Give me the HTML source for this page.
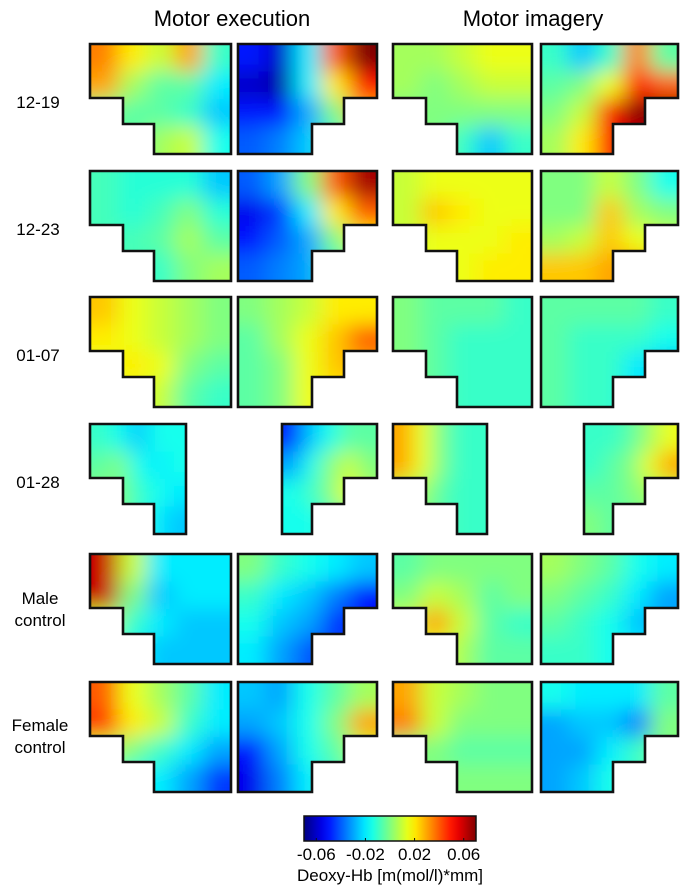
<!DOCTYPE html>
<html><head><meta charset="utf-8"><style>
html,body{margin:0;padding:0;background:#fff;}
svg{display:block;font-family:"Liberation Sans",sans-serif;}
</style></head><body>
<svg id="fig" width="686" height="894" viewBox="0 0 686 894" xmlns="http://www.w3.org/2000/svg">
<defs id="defs"></defs>
<text x="232" y="26" font-size="22" text-anchor="middle">Motor execution</text>
<text x="533" y="26" font-size="22" text-anchor="middle">Motor imagery</text>
<g id="rowlabels" font-size="17" text-anchor="middle">
<text x="38" y="108">12-19</text>
<text x="38" y="235">12-23</text>
<text x="38" y="361">01-07</text>
<text x="38" y="488">01-28</text>
<text x="40" y="604"><tspan x="40">Male</tspan><tspan x="40" dy="22">control</tspan></text>
<text x="40" y="731"><tspan x="40">Female</tspan><tspan x="40" dy="22">control</tspan></text>
</g>
<g id="panels"></g>
<g id="colorbar"></g>
<text x="390" y="881" font-size="17" text-anchor="middle">Deoxy-Hb [m(mol/l)*mm]</text>
</svg>
<script>
// Data (values in units of 0.01 m(mol/l)*mm), 4 rows x 5 cols per panel
const rowNames = ["12-19","12-23","01-07","01-28","male-control","female-control"];
const colNames = ["me-left","me-right","mi-left","mi-right"];
const vmin = -0.07, vmax = 0.07;
const cbTicks = [-0.06,-0.02,0.02,0.06];
const cbTickLabels = ["-0.06","-0.02","0.02","0.06"];
const r1 = [
 [[3.5,2,1,3,-1],[3,0.5,-0.5,-0.5,-2],[0,-0.5,-0.5,-1,-2.5],[-0.5,-0.5,0.5,1,-1.5]],
 [[-5,-6,-2,4,7],[-6,-6.5,-2,2,5],[-5,-5,-3,0,3],[-4,-3.5,-2.5,-1,1]],
 [[0.5,0.5,1,1.5,1.5],[0.5,0,0.5,1,1],[0,0,0,0,0],[0,0,-1,-2.5,-1]],
 [[-1,-2.5,-1,3.5,-0.5],[-0.5,0,1.5,5,4],[0,1,5,7,7],[0.5,2,5,6,6]]];
const r2 = [
 [[-0.8,-1.2,-1.2,-1.2,-2.5],[-0.8,-1.2,-0.8,0,-1.2],[-0.8,-0.8,-0.5,0.5,-0.5],[-0.8,-0.8,-1,0,0.5]],
 [[-4,-3,0,4,6.5],[-5.5,-4.5,-2,2,4],[-5,-4,-3,0,2],[-4,-3.5,-3,-1,0]],
 [[1,1.5,1.5,1.5,1.5],[1,2.5,2,1.5,1.5],[1,1.5,1.5,1.5,2],[1.5,1.5,1.5,2,2]],
 [[0,0,1,0,-1.5],[0,0,2.5,0.5,0],[0.5,1,2.5,1.5,1],[2.5,2.5,3,3,2]]];
const r3 = [
 [[2.5,1.5,1,0.5,0],[2,1.5,1,0.5,0],[1.5,2,1.5,0,-0.5],[1,1.5,1,-0.5,-1]],
 [[0,0.5,1,2,2],[-0.5,0.5,1.5,2.5,4],[-0.5,0,1.5,2.5,3],[-0.5,0,1.5,2,2]],
 [[0,-0.5,-0.5,-0.5,-1],[0,-0.5,-1,-1,-1],[0,-0.5,-1,-1,-1],[0,-0.5,-1,-1,-1]],
 [[-0.5,-0.5,-0.5,-0.5,-1],[-0.5,-1,-1,-1,-1.5],[-0.5,-1,-1,-2,-2.5],[-0.5,-1,-1,-2,-2]]];
const r4 = [
 [[-1,-1.5,-2.5,-1.5,-1.5],[-0.5,0,-1.5,-2,-1.5],[0,0,-1,-1.5,-2],[0,0,-1,-2,-2.5]],
 [[-5,-2.5,-1.5,-0.5,-0.5],[-3,-1.5,0,1,0],[-1.5,-1,0,1.5,0.5],[-1.5,-1.5,-1,0,0]],
 [[3,1.5,0,-1,-1],[3,1.5,0,-1,-1],[1,0.5,-0.5,-1,-1],[0.5,0,-0.5,-1,-1]],
 [[-1,-1,-0.5,0.5,1.5],[-1,-0.5,0,1.5,3],[-0.5,-0.5,0,0.5,1],[0,-0.5,-0.5,0,0]]];
const r5 = [
 [[6,1,-2,-2,-2],[6,0,-2.5,-2,-2],[1,-1,-2,-2.5,-2.5],[-1,-1.5,-2.5,-2.5,-2.5]],
 [[0,-1,-1.5,-2,-2.5],[-1,-2,-2.5,-3.5,-5],[-1.5,-2.5,-3,-4.5,-5],[-2,-3,-4,-4.5,-4]],
 [[-0.5,0,0,0,0],[0,1,0.5,-0.5,0],[1,3,1,-0.5,-1],[0.5,1.5,0.5,-0.5,-0.5]],
 [[0.5,0,-0.5,-1.5,-2],[0,-0.5,-1,-2,-3],[-0.5,-1,-1.5,-2.5,-3],[-1,-1,-1.5,-2,-2]]];
const r6 = [
 [[4,1.5,0.5,-0.5,-2],[4.5,2,1,-1,-2],[1,0,-1,-2,-3],[-1,-1.5,-2,-3,-4.5]],
 [[-2.5,-3,-1.5,-0.5,0.5],[-3,-2.5,-1.5,0,3],[-5,-3,-1.5,-0.5,1],[-5.5,-3.5,-2,-1,0]],
 [[3,1,0.5,0,0],[3.5,1,0,0,0],[0,0,-0.5,-0.5,-0.5],[0,0,0,0,0]],
 [[-1.5,-2,-2,-2,-0.5],[-3,-2.5,-2.5,-3.5,0],[-3,-3,-2,-1,0],[-3,-2.5,-1.5,-1,0]]];
const panelData = [r1,r2,r3,r4,r5,r6];

// layout
const NS="http://www.w3.org/2000/svg";
const rowY=[44,171,297,424,554,682];
const colX=[90,238,393,541], colW=[141,139,139,137];
const narrowX=[90,282,393,584], narrowW=[96,95,94,94];
const PH=110;
function jet(v){
  let t=(v-vmin)/(vmax-vmin); t=Math.max(0,Math.min(1,t));
  const c=x=>Math.round(255*Math.max(0,Math.min(1,x)));
  return `rgb(${c(1.5-Math.abs(4*t-3))},${c(1.5-Math.abs(4*t-2))},${c(1.5-Math.abs(4*t-1))})`;
}
function mk(tag,attrs,parent){const e=document.createElementNS(NS,tag);for(const k in attrs)e.setAttribute(k,attrs[k]);parent.appendChild(e);return e;}
const defs=document.getElementById('defs'), panels=document.getElementById('panels');
const blur=mk('filter',{id:'bl',x:'-20%',y:'-20%',width:'140%',height:'140%'},defs);
mk('feGaussianBlur',{stdDeviation:'11 10'},blur);

panelData.forEach((row,ri)=>{
  row.forEach((grid,ci)=>{
    const narrow=ri===3;
    const x=narrow?narrowX[ci]:colX[ci], w=narrow?narrowW[ci]:colW[ci], y=rowY[ri], h=PH;
    const left=ci%2===0;
    let pts;
    if(left) pts=[[x,y],[x+w,y],[x+w,y+h],[x+64,y+h],[x+64,y+80],[x+33,y+80],[x+33,y+54],[x,y+54]];
    else pts=[[x,y],[x+w,y],[x+w,y+54],[x+w-33,y+54],[x+w-33,y+80],[x+w-65,y+80],[x+w-65,y+h],[x,y+h]];
    const ptsStr=pts.map(p=>p.join(',')).join(' ');
    const id='cp'+ri+'_'+ci;
    const cp=mk('clipPath',{id:id},defs);
    mk('polygon',{points:ptsStr},cp);
    const g=mk('g',{},panels);
    
    
    const cg=mk('g',{'clip-path':`url(#${id})`},g);
    const bg=mk('g',{filter:'url(#bl)'},cg);
    const nr=grid.length, nc=grid[0].length, cw=w/nc, ch=h/nr, m=25;
    grid.forEach((vals,r)=>vals.forEach((v,c)=>{
      const x0=c===0?x-m:x+c*cw, x1=c===nc-1?x+w+m:x+(c+1)*cw;
      const y0=r===0?y-m:y+r*ch, y1=r===nr-1?y+h+m:y+(r+1)*ch;
      const cell=mk('rect',{x:x0,y:y0,width:x1-x0+0.5,height:y1-y0+0.5,fill:jet(v*0.01)},bg);
      
      
    }));
    const ol=mk('polygon',{points:ptsStr,fill:'none',stroke:'#111','stroke-width':'2.6','stroke-linejoin':'miter'},g);
    
    
  });
});

// colorbar
const cb=document.getElementById('colorbar');
const cbx=304, cbw=172, cby=816, cbh=25;
const lg=mk('linearGradient',{id:'jetg',x1:'0',x2:'1',y1:'0',y2:'0'},defs);
for(let i=0;i<=20;i++){const t=i/20;mk('stop',{offset:t,'stop-color':jet(vmin+t*(vmax-vmin))},lg);}
mk('rect',{x:cbx,y:cby,width:cbw,height:cbh,fill:'url(#jetg)',stroke:'#111','stroke-width':'1.5'},cb);
const sx=v=>cbx+(v-vmin)/(vmax-vmin)*cbw;
cbTicks.forEach((v,i)=>{
  const tk=mk('line',{x1:sx(v),x2:sx(v),y1:cby+cbh,y2:cby+cbh-3,stroke:'#111','stroke-width':'1'},cb);
  
  
  const tl=mk('text',{x:sx(v),y:860,'font-size':'17','text-anchor':'middle'},cb);
  tl.textContent=cbTickLabels[i];
  
  
});
</script>
</body></html>
